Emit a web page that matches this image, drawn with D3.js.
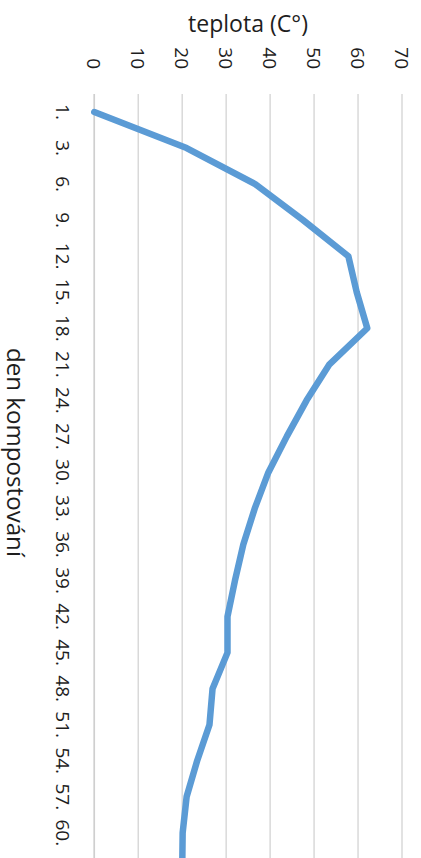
<!DOCTYPE html>
<html>
<head>
<meta charset="utf-8">
<script src="https://cdn.jsdelivr.net/npm/d3@7"></script>
<style>
  html, body { margin: 0; padding: 0; background: #fff; }
  svg { display: block; }
  text { font-family: "Open Sans", "DejaVu Sans", sans-serif; fill: #1e1e1e; }
</style>
</head>
<body>
<svg id="chart" width="421" height="858"></svg>
<script>
// ---- data ----
const categories = ["1.", "3.", "6.", "9.", "12.", "15.", "18.", "21.", "24.", "27.", "30.",
                    "33.", "36.", "39.", "42.", "45.", "48.", "51.", "54.", "57.", "60.", ""];
const temperature = [0, 21.0, 36.6, 47.5, 57.8, 59.7, 62.1, 53.5, 48.3, 43.8, 39.6,
                     36.5, 33.9, 32.0, 30.3, 30.3, 26.9, 26.2, 23.4, 21.0, 20.1, 20.0];
const valueTicks = [0, 10, 20, 30, 40, 50, 60, 70];
const valueTitle = "teplota (C°)";
const categoryTitle = "den kompostování";

// ---- layout ----
const svg = d3.select("#chart");
const plotLeft = 94.3, plotRight = 402, plotTop = 94, band = 36.04;

const x = d3.scaleLinear().domain([0, 70]).range([plotLeft, plotRight]);
const y = d3.scaleBand().domain(d3.range(categories.length))
  .range([plotTop, plotTop + band * categories.length]).padding(0);
const yc = i => y(i) + y.bandwidth() / 2;

// gridlines
svg.append("g").selectAll("line").data(valueTicks).join("line")
  .attr("x1", d => x(d)).attr("x2", d => x(d))
  .attr("y1", plotTop).attr("y2", plotTop + band * categories.length)
  .attr("stroke", "#d9d9d9").attr("stroke-width", 1.5);

// category axis line
svg.append("line")
  .attr("x1", x(0)).attr("x2", x(0))
  .attr("y1", plotTop).attr("y2", plotTop + band * categories.length)
  .attr("stroke", "#cfcfcf").attr("stroke-width", 1.5);

// value tick labels (rotated)
svg.append("g").selectAll("text").data(valueTicks).join("text")
  .attr("transform", d => `translate(${x(d)},69) rotate(90)`)
  .attr("text-anchor", "end")
  .attr("dy", "0.36em")
  .attr("font-size", 19)
  .text(d => d);

// category labels (rotated)
svg.append("g").selectAll("text").data(categories).join("text")
  .attr("transform", (d, i) => `translate(55.5,${yc(i)}) rotate(90)`)
  .attr("text-anchor", "middle")
  .attr("font-size", 19)
  .text(d => d);

// line
const line = d3.line()
  .x(d => x(d))
  .y((d, i) => yc(i));
svg.append("path")
  .datum(temperature)
  .attr("d", line)
  .attr("fill", "none")
  .attr("stroke", "#5b9bd5")
  .attr("stroke-width", 6.5)
  .attr("stroke-linejoin", "round")
  .attr("stroke-linecap", "round");

// titles
function fit(sel, target) {
  const len = sel.node().getComputedTextLength();
  const fs = parseFloat(sel.attr("font-size"));
  sel.attr("font-size", fs * target / len);
}
const t1 = svg.append("text")
  .attr("x", 248).attr("y", 31.5)
  .attr("text-anchor", "middle")
  .attr("font-size", 22)
  .text(valueTitle);
fit(t1, 120);

const t2 = svg.append("text")
  .attr("transform", "translate(7,452.5) rotate(90)")
  .attr("text-anchor", "middle")
  .attr("font-size", 22)
  .text(categoryTitle);
fit(t2, 209);
</script>
</body>
</html>
